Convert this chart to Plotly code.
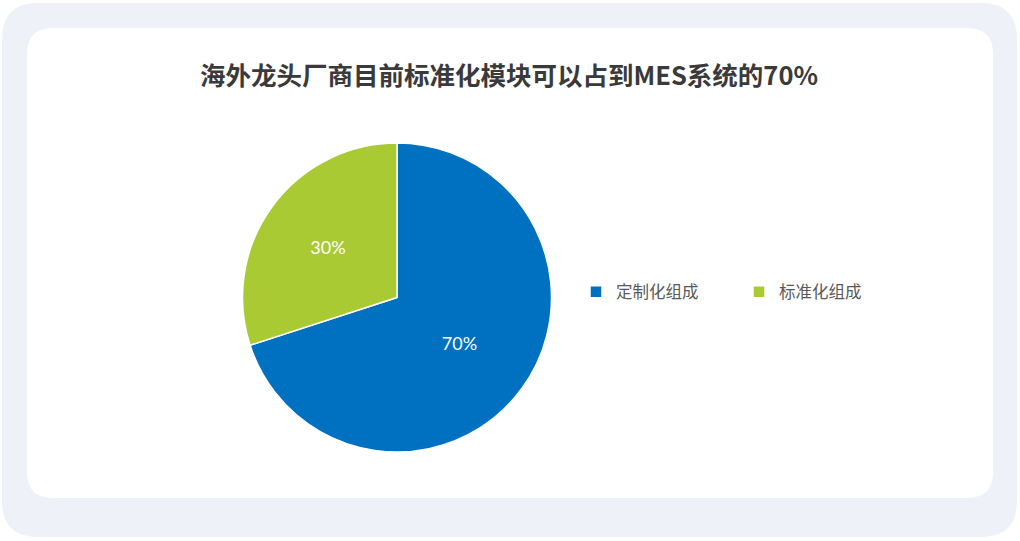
import plotly.graph_objects as go

title_text = "海外龙头厂商目前标准化模块可以占到MES系统的70%"
labels = ["定制化组成", "标准化组成"]
values = [70, 30]
colors = ["#0070c0", "#a9ca33"]

W, H = 1020, 541


def rounded_rect(x0, y0, x1, y1, r):
    # pixel coords (top-left origin) -> paper coords path
    def px(x):
        return x / W

    def py(y):
        return 1 - y / H

    rx, ry = r / W, r / H
    return (
        f"M {px(x0) + rx},{py(y0)} L {px(x1) - rx},{py(y0)} "
        f"Q {px(x1)},{py(y0)} {px(x1)},{py(y0) - ry} "
        f"L {px(x1)},{py(y1) + ry} Q {px(x1)},{py(y1)} {px(x1) - rx},{py(y1)} "
        f"L {px(x0) + rx},{py(y1)} Q {px(x0)},{py(y1)} {px(x0)},{py(y1) + ry} "
        f"L {px(x0)},{py(y0) - ry} Q {px(x0)},{py(y0)} {px(x0) + rx},{py(y0)} Z"
    )


fig = go.Figure()
fig.add_trace(go.Pie(
    labels=labels,
    values=values,
    sort=False,
    direction="clockwise",
    rotation=0,
    marker=dict(colors=colors, line=dict(color="white", width=1.5)),
    textinfo="percent",
    texttemplate="%{percent:.0%}",
    textposition="inside",
    insidetextorientation="horizontal",
    textfont=dict(color="white", size=18, family="Lato, Noto Sans CJK SC"),
    hoverinfo="label+percent",
    domain=dict(x=[242 / W, 552 / W], y=[1 - 452 / H, 1 - 143 / H]),
))

fig.update_layout(
    width=W,
    height=H,
    margin=dict(l=0, r=0, t=0, b=0),
    paper_bgcolor="white",
    title=dict(
        text=f"<b>{title_text}</b>",
        x=509 / W, xanchor="center",
        y=1 - 76 / H, yanchor="middle",
        font=dict(size=25.5, color="#3a3a3a", family="Noto Sans CJK SC"),
    ),
    legend=dict(
        orientation="h",
        x=576 / W, xanchor="left",
        y=1 - 292 / H, yanchor="middle",
        font=dict(size=16.5, color="#595959", family="Noto Sans CJK SC"),
        entrywidth=118,
        itemwidth=30,
        bgcolor="rgba(0,0,0,0)",
    ),
    shapes=[
        dict(type="path", xref="paper", yref="paper", layer="below",
             path=rounded_rect(2, 3, 1017, 537, 36),
             fillcolor="#eef1f8", line=dict(width=0)),
        dict(type="path", xref="paper", yref="paper", layer="below",
             path=rounded_rect(27, 28, 993, 498, 26),
             fillcolor="white", line=dict(width=0)),
    ],
)

fig.write_html("out.html", config={"displayModeBar": False},
               post_script="document.body.style.margin='0';")
